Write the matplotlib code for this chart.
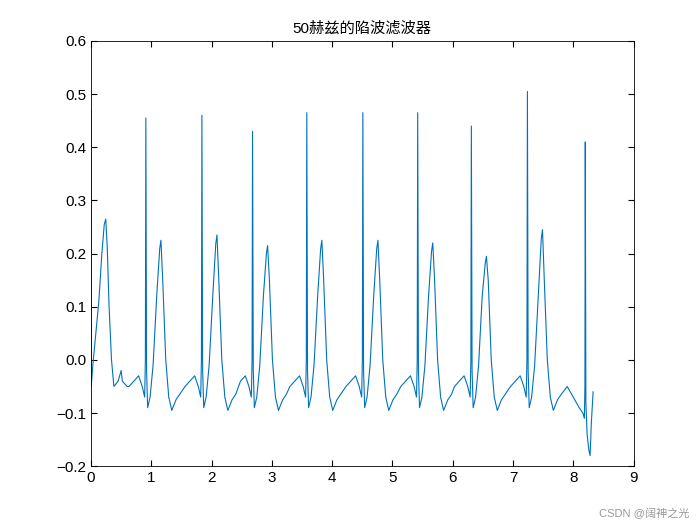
import matplotlib
matplotlib.use("Agg")
import matplotlib.pyplot as plt
import numpy as np

plt.rcParams['font.family'] = ['Liberation Sans', 'Noto Sans CJK SC', 'DejaVu Sans']

# start segment (first partial beat)
start_t = [0.0, 0.004, 0.03, 0.08, 0.13, 0.18, 0.22, 0.245, 0.27, 0.3, 0.34, 0.38, 0.45, 0.5, 0.52, 0.6]
start_v = [0.47, -0.05, -0.01, 0.05, 0.11, 0.2, 0.255, 0.265, 0.21, 0.1, 0.0, -0.05, -0.04, -0.02, -0.04, -0.05]
# R-peak times, amplitudes and T-wave heights
r_times = [0.91, 1.84, 2.68, 3.58, 4.51, 5.42, 6.31, 7.24, 8.20]
r_amps = [0.455, 0.46, 0.43, 0.465, 0.465, 0.465, 0.44, 0.505, 0.41]
t_amps = [0.225, 0.235, 0.215, 0.225, 0.225, 0.22, 0.195, 0.245, None]
# beat shape: offsets from R and values (R/T entries replaced per beat)
shape_dt = [-0.28, -0.2, -0.12, -0.06, -0.02, -0.008, 0.0, 0.012, 0.03, 0.07, 0.12, 0.18, 0.23, 0.25, 0.28, 0.33, 0.38, 0.43, 0.5, 0.56]
shape_v = [-0.05, -0.04, -0.03, -0.05, -0.07, 0.0, 'R', -0.02, -0.09, -0.07, -0.01, 0.12, 'T95', 'T', 0.15, 0.0, -0.07, -0.095, -0.075, -0.065]
# end segment after last R
end_dt = [-0.3, -0.2, -0.1, -0.04, -0.015, -0.006, 0.0, 0.01, 0.03, 0.06, 0.08, 0.1, 0.13]
end_v = [-0.05, -0.07, -0.09, -0.1, -0.11, -0.05, 'R', -0.08, -0.14, -0.17, -0.18, -0.12, -0.06]

t = list(start_t); v = list(start_v)
for r, a, h in zip(r_times, r_amps, t_amps):
    dts, vs = (shape_dt, shape_v) if h is not None else (end_dt, end_v)
    for d, s in zip(dts, vs):
        tt = r + d
        if tt <= t[-1]:
            continue
        if s == 'R': s = a
        elif s == 'T': s = h
        elif s == 'T95': s = h * 0.93
        t.append(tt); v.append(s)

fig = plt.figure(figsize=(7, 5.25), dpi=100)
ax = fig.add_axes([0.13, 0.112, 0.775, 0.81])
ax.plot(t, v, color='#0072BD', lw=0.8)
ax.set_xlim(0, 9); ax.set_ylim(-0.2, 0.6)
ax.set_xticks(range(10))
ax.set_yticks(np.round(np.arange(-0.2, 0.61, 0.1), 1))
ax.tick_params(direction='in', top=True, right=True, labelsize=11, length=4)
for s in ax.spines.values():
    s.set_linewidth(0.6)
ax.set_title('50赫兹的陷波滤波器', fontsize=11)
fig.text(0.985, 0.012, 'CSDN @阔神之光', ha='right', va='bottom', fontsize=8, color='#999999')
fig.savefig('out.png')
